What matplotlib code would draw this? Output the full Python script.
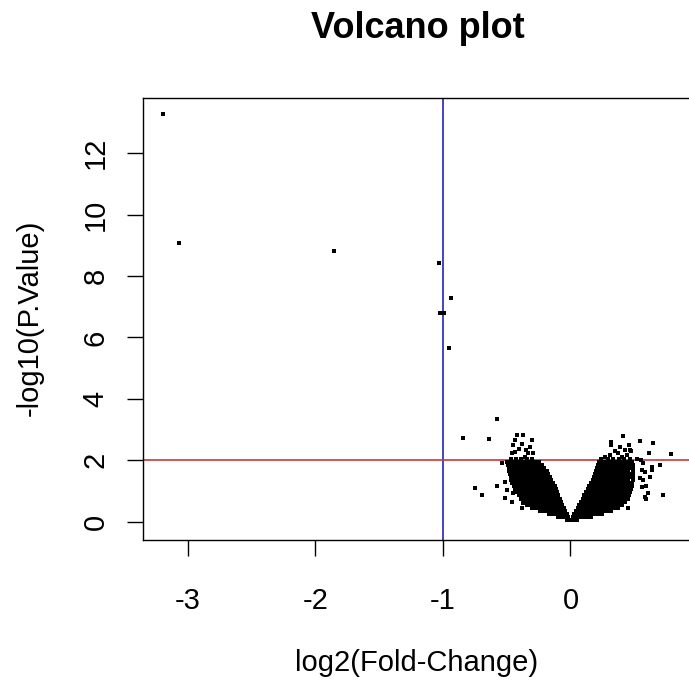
import matplotlib
matplotlib.use("Agg")
import matplotlib.pyplot as plt

plt.rcParams["font.family"] = ["Liberation Sans", "DejaVu Sans"]
plt.rcParams["axes.unicode_minus"] = False

# Strongly significant genes (log2 fold change, -log10 p)
top_fc = [-3.19, -3.07, -1.85, -1.03, -0.94, -1.02, -0.99, -0.95]
top_p = [13.27, 9.08, 8.82, 8.43, 7.29, 6.78, 6.78, 5.67]

# Scattered genes around the down-regulated arm
down_fc = [-0.42, -0.37, -0.30, -0.435, -0.45, -0.38, -0.435, -0.46, -0.317, -0.296,
           -0.33, -0.356, -0.54, -0.578, -0.513, -0.50, -0.513, -0.46, -0.448, -0.382,
           -0.37, -0.75, -0.69, -0.84, -0.64, -0.577, -0.40, -0.345]
down_p = [2.81, 2.81, 2.67, 2.65, 2.49, 2.54, 2.27, 2.22, 2.44, 2.25,
          2.22, 2.12, 1.92, 1.17, 1.30, 1.03, 0.76, 0.65, 0.92, 0.44,
          0.60, 1.10, 0.87, 2.73, 2.68, 3.33, 2.38, 2.33]

# Scattered genes around the up-regulated arm
up_fc = [0.413, 0.544, 0.32, 0.32, 0.388, 0.458, 0.427, 0.474, 0.374, 0.27,
         0.31, 0.40, 0.557, 0.57, 0.557, 0.583, 0.453, 0.648, 0.79, 0.617,
         0.70, 0.636, 0.636, 0.57, 0.583, 0.544, 0.622, 0.591, 0.604, 0.591,
         0.727, 0.466, 0.52, 0.55, 0.35, 0.44]
up_p = [2.78, 2.63, 2.60, 2.49, 2.44, 2.49, 2.33, 2.31, 2.22, 2.11,
        2.16, 2.11, 1.68, 1.35, 1.14, 0.81, 0.44, 2.55, 2.20, 2.24,
        1.84, 1.79, 1.68, 1.90, 1.62, 1.41, 1.46, 1.17, 0.94, 0.74,
        0.87, 2.33, 2.05, 2.00, 2.30, 2.18]

# Bulk of the genes, read row by row (-log10 p level, fold changes on that row)
bulk_levels = [0.05, 0.15, 0.25, 0.35, 0.45, 0.55, 0.65, 0.75, 0.85, 0.95,
               1.05, 1.15, 1.25, 1.35, 1.45, 1.55, 1.65, 1.75, 1.85, 1.95, 2.05]

bulk_down = [
    [-0.01, -0.03, 0.0],
    [-0.02, -0.045, -0.07, -0.095],
    [-0.03, -0.055, -0.08, -0.105, -0.13, -0.155, -0.17],
    [-0.04, -0.065, -0.09, -0.115, -0.14, -0.165, -0.19, -0.215, -0.24],
    [-0.05, -0.075, -0.1, -0.125, -0.15, -0.175, -0.2, -0.225, -0.25, -0.275, -0.3],
    [-0.065, -0.09, -0.115, -0.14, -0.165, -0.19, -0.215, -0.24, -0.265, -0.29, -0.315, -0.34],
    [-0.075, -0.1, -0.125, -0.15, -0.175, -0.2, -0.225, -0.25, -0.275, -0.3, -0.325, -0.35, -0.365],
    [-0.085, -0.11, -0.135, -0.16, -0.185, -0.21, -0.235, -0.26, -0.285, -0.31, -0.335, -0.36, -0.385],
    [-0.095, -0.12, -0.145, -0.17, -0.195, -0.22, -0.245, -0.27, -0.295, -0.32, -0.345, -0.37, -0.395, -0.405],
    [-0.105, -0.13, -0.155, -0.18, -0.205, -0.23, -0.255, -0.28, -0.305, -0.33, -0.355, -0.38, -0.405, -0.42],
    [-0.115, -0.14, -0.165, -0.19, -0.215, -0.24, -0.265, -0.29, -0.315, -0.34, -0.365, -0.39, -0.415, -0.435],
    [-0.125, -0.15, -0.175, -0.2, -0.225, -0.25, -0.275, -0.3, -0.325, -0.35, -0.375, -0.4, -0.425, -0.445],
    [-0.135, -0.16, -0.185, -0.21, -0.235, -0.26, -0.285, -0.31, -0.335, -0.36, -0.385, -0.41, -0.435, -0.455],
    [-0.15, -0.175, -0.2, -0.225, -0.25, -0.275, -0.3, -0.325, -0.35, -0.375, -0.4, -0.425, -0.45, -0.465],
    [-0.16, -0.185, -0.21, -0.235, -0.26, -0.285, -0.31, -0.335, -0.36, -0.385, -0.41, -0.435, -0.46, -0.47],
    [-0.175, -0.2, -0.225, -0.25, -0.275, -0.3, -0.325, -0.35, -0.375, -0.4, -0.425, -0.45, -0.475],
    [-0.185, -0.21, -0.235, -0.26, -0.285, -0.31, -0.335, -0.36, -0.385, -0.41, -0.435, -0.46, -0.48],
    [-0.205, -0.23, -0.255, -0.28, -0.305, -0.33, -0.355, -0.38, -0.405, -0.43, -0.455, -0.485],
    [-0.225, -0.25, -0.275, -0.3, -0.325, -0.35, -0.375, -0.4, -0.425, -0.45, -0.475, -0.49],
    [-0.25, -0.275, -0.31, -0.34, -0.37, -0.395, -0.42, -0.45, -0.475, -0.495],
    [-0.3, -0.34, -0.39, -0.43, -0.47],
]

bulk_up = [
    [0.01, 0.03, 0.05],
    [0.02, 0.045, 0.07, 0.095, 0.12, 0.145, 0.16],
    [0.03, 0.055, 0.08, 0.105, 0.13, 0.155, 0.18, 0.205, 0.23, 0.25],
    [0.045, 0.07, 0.095, 0.12, 0.145, 0.17, 0.195, 0.22, 0.245, 0.27, 0.295, 0.32],
    [0.056, 0.08, 0.105, 0.13, 0.155, 0.18, 0.205, 0.23, 0.255, 0.28, 0.305, 0.33, 0.355, 0.37],
    [0.07, 0.095, 0.12, 0.145, 0.17, 0.195, 0.22, 0.245, 0.27, 0.295, 0.32, 0.345, 0.37, 0.395, 0.405],
    [0.08, 0.105, 0.13, 0.155, 0.18, 0.205, 0.23, 0.255, 0.28, 0.305, 0.33, 0.355, 0.38, 0.405, 0.43],
    [0.095, 0.12, 0.145, 0.17, 0.195, 0.22, 0.245, 0.27, 0.295, 0.32, 0.345, 0.37, 0.395, 0.42, 0.45],
    [0.105, 0.13, 0.155, 0.18, 0.205, 0.23, 0.255, 0.28, 0.305, 0.33, 0.355, 0.38, 0.405, 0.43, 0.46],
    [0.12, 0.145, 0.17, 0.195, 0.22, 0.245, 0.27, 0.295, 0.32, 0.345, 0.37, 0.395, 0.42, 0.445, 0.47],
    [0.135, 0.16, 0.185, 0.21, 0.235, 0.26, 0.285, 0.31, 0.335, 0.36, 0.385, 0.41, 0.435, 0.46, 0.478],
    [0.148, 0.173, 0.198, 0.223, 0.248, 0.273, 0.298, 0.323, 0.348, 0.373, 0.398, 0.423, 0.448, 0.482],
    [0.16, 0.185, 0.21, 0.235, 0.26, 0.285, 0.31, 0.335, 0.36, 0.385, 0.41, 0.435, 0.46, 0.485],
    [0.175, 0.2, 0.225, 0.25, 0.275, 0.3, 0.325, 0.35, 0.375, 0.4, 0.425, 0.45, 0.488],
    [0.185, 0.21, 0.235, 0.26, 0.285, 0.31, 0.335, 0.36, 0.385, 0.41, 0.435, 0.46, 0.49],
    [0.195, 0.22, 0.245, 0.27, 0.295, 0.32, 0.345, 0.37, 0.395, 0.42, 0.445, 0.47, 0.49],
    [0.203, 0.228, 0.253, 0.278, 0.303, 0.328, 0.353, 0.378, 0.403, 0.428, 0.453, 0.49],
    [0.21, 0.235, 0.26, 0.285, 0.31, 0.335, 0.36, 0.385, 0.41, 0.435, 0.46, 0.49],
    [0.215, 0.24, 0.265, 0.29, 0.315, 0.34, 0.365, 0.39, 0.415, 0.44, 0.465, 0.488],
    [0.22, 0.25, 0.28, 0.31, 0.34, 0.37, 0.40, 0.43, 0.46, 0.485],
    [0.24, 0.29, 0.33, 0.38, 0.42, 0.47],
]

fc_cutoff = -1.0
p_cutoff = 2.0

x_ticks = [-3, -2, -1, 0]
y_ticks = [0, 2, 4, 6, 8, 10, 12]

# Assemble all genes
xs = list(top_fc) + list(down_fc) + list(up_fc)
ys = list(top_p) + list(down_p) + list(up_p)
for level, row_d, row_u in zip(bulk_levels, bulk_down, bulk_up):
    xs += row_d + row_u
    ys += [level] * (len(row_d) + len(row_u))

W, H = 689, 685
fig = plt.figure(figsize=(W / 100, H / 100), dpi=100)
fig.patch.set_facecolor("white")

left_px, right_px, top_px, bottom_px = 143, 693, 98, 540
ax = fig.add_axes([left_px / W, (H - bottom_px) / H,
                   (right_px - left_px) / W, (bottom_px - top_px) / H])

ax.plot(xs, ys, linestyle="none", marker="s", markersize=2.4,
        markeredgewidth=0, color="black", zorder=3)

ax.axvline(fc_cutoff, color="#2424b4", linewidth=1.2, zorder=2)
ax.axhline(p_cutoff, color="#c23a3a", linewidth=1.2, zorder=2)

ax.set_xlim(-3.35, 0.96)
ax.set_ylim(-0.6, 13.8)
ax.set_xticks(x_ticks)
ax.set_xticklabels([str(t) for t in x_ticks])
ax.set_yticks(y_ticks)
ax.set_yticklabels([str(t) for t in y_ticks], rotation=90, va="center")

for s in ax.spines.values():
    s.set_linewidth(1.0)
    s.set_color("black")

ax.tick_params(axis="both", direction="out", length=11.5, width=1.0,
               labelsize=21, colors="black")
ax.tick_params(axis="x", pad=22.5)
ax.tick_params(axis="y", pad=12.5)

fig.text(418 / W, 1 - 29 / H, "Volcano plot", ha="center", va="center",
         fontsize=26, fontweight="bold")
fig.text(417 / W, 1 - 663 / H, "log2(Fold-Change)", ha="center", va="center",
         fontsize=21)
fig.text(30 / W, 1 - 318 / H, "-log10(P.Value)", ha="center", va="center",
         fontsize=21, rotation=90)

fig.savefig("out.png", dpi=100, facecolor="white")
